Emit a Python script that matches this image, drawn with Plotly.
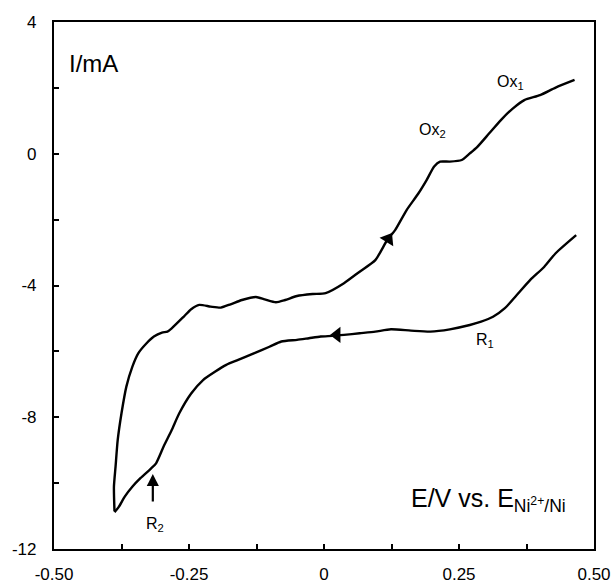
import plotly.graph_objects as go

# Forward (anodic) scan: from the cathodic minimum up to the right end
fwd_E = [-0.388, -0.389, -0.386, -0.382, -0.375, -0.366, -0.355, -0.344, -0.329, -0.315,
         -0.300, -0.290, -0.282, -0.260, -0.246, -0.231, -0.210, -0.191, -0.173, -0.152,
         -0.126, -0.110, -0.089, -0.072, -0.050, -0.021, 0.003, 0.037, 0.066,
         0.095, 0.117, 0.132, 0.153, 0.175, 0.190, 0.204, 0.215, 0.233, 0.255,
         0.270, 0.284, 0.306, 0.328, 0.350, 0.371, 0.400, 0.429, 0.464]
fwd_I = [-10.85, -10.11, -9.50, -8.69, -7.88, -7.07, -6.47, -6.06, -5.76, -5.55,
         -5.43, -5.40, -5.30, -4.95, -4.72, -4.59, -4.64, -4.67, -4.57, -4.44,
         -4.35, -4.42, -4.51, -4.44, -4.32, -4.26, -4.23, -3.93, -3.58,
         -3.23, -2.62, -2.31, -1.71, -1.20, -0.80, -0.39, -0.24, -0.24, -0.19,
         0.01, 0.21, 0.62, 1.03, 1.38, 1.63, 1.78, 2.01, 2.24]

# Reverse (cathodic) scan: from the right end back to the minimum
rev_E = [0.467, 0.429, 0.408, 0.382, 0.357, 0.335, 0.313, 0.291, 0.270, 0.233,
         0.197, 0.161, 0.124, 0.095, 0.066, 0.037, 0.016, -0.006, -0.028, -0.050,
         -0.079, -0.101, -0.130, -0.159, -0.181, -0.202, -0.224, -0.246, -0.268, -0.282,
         -0.297, -0.311, -0.320, -0.340, -0.355, -0.369, -0.380, -0.388]
rev_I = [-2.47, -3.02, -3.43, -3.83, -4.29, -4.69, -4.95, -5.10, -5.20, -5.33,
         -5.40, -5.37, -5.33, -5.40, -5.45, -5.50, -5.53, -5.55, -5.60, -5.65,
         -5.70, -5.86, -6.06, -6.26, -6.41, -6.62, -6.87, -7.28, -7.88, -8.39,
         -8.89, -9.40, -9.55, -9.85, -10.11, -10.41, -10.72, -10.88]

# Scan-direction arrowheads
arrow_E = [0.119, 0.024]
arrow_I = [-2.59, -5.50]
arrow_sym = ["triangle-up", "triangle-left"]
arrow_ang = [32, 0]

# Peak labels
lab_text = ["Ox<sub>1</sub>", "Ox<sub>2</sub>", "R<sub>1</sub>", "R<sub>2</sub>"]
lab_E = [0.345, 0.200, 0.298, -0.313]
lab_I = [2.15, 0.70, -5.68, -11.25]

x_ticks = [-0.5, -0.375, -0.25, -0.125, 0, 0.125, 0.25, 0.375, 0.5]
x_ticktext = ["-0.50", "", "-0.25", "", "0", "", "0.25", "", "0.50"]
y_ticks = [4, 2, 0, -2, -4, -6, -8, -10, -12]
y_ticktext = ["4", "", "0", "", "-4", "", "-8", "", "-12"]

FONT = "Arial, Liberation Sans, sans-serif"

fig = go.Figure()
fig.add_trace(go.Scatter(x=fwd_E, y=fwd_I, mode="lines",
                         line=dict(color="black", width=2.4, shape="spline", smoothing=0.6),
                         showlegend=False, hoverinfo="skip"))
fig.add_trace(go.Scatter(x=rev_E, y=rev_I, mode="lines",
                         line=dict(color="black", width=2.4, shape="spline", smoothing=0.6),
                         showlegend=False, hoverinfo="skip"))
fig.add_trace(go.Scatter(x=arrow_E, y=arrow_I, mode="markers",
                         marker=dict(symbol=arrow_sym, angle=arrow_ang, size=14, color="black"),
                         showlegend=False, hoverinfo="skip"))

for t, xe, yi in zip(lab_text, lab_E, lab_I):
    fig.add_annotation(x=xe, y=yi, text=t, showarrow=False,
                       font=dict(family=FONT, size=16, color="black"))

# R2 pointer arrow
fig.add_annotation(x=-0.317, y=-9.72, ax=-0.317, ay=-10.6, axref="x", ayref="y",
                   text="", showarrow=True, arrowhead=2, arrowsize=1.1,
                   arrowwidth=2.2, arrowcolor="black")

fig.add_annotation(x=0.024, y=0.95, xref="paper", yref="paper", xanchor="left",
                   text="I/mA", showarrow=False,
                   font=dict(family=FONT, size=24, color="black"))
fig.add_annotation(x=0.952, y=0.093, xref="paper", yref="paper", xanchor="right",
                   yanchor="middle",
                   text="E/V vs. E<sub>Ni<sup>2+</sup>/Ni</sub>", showarrow=False,
                   font=dict(family=FONT, size=25, color="black"))

fig.update_xaxes(range=[-0.5, 0.5], tickvals=x_ticks, ticktext=x_ticktext,
                 ticks="inside", ticklen=5, tickwidth=1.5, tickcolor="black",
                 showline=True, linecolor="black", linewidth=2.2, mirror=True,
                 showgrid=False, zeroline=False, ticklabelstandoff=8, automargin=False,
                 tickfont=dict(family=FONT, size=17, color="black"))
fig.update_yaxes(range=[-12, 4], tickvals=y_ticks, ticktext=y_ticktext,
                 ticks="inside", ticklen=5, tickwidth=1.5, tickcolor="black",
                 showline=True, linecolor="black", linewidth=2.2, mirror=True,
                 showgrid=False, zeroline=False, ticklabelstandoff=12, automargin=False,
                 tickfont=dict(family=FONT, size=17, color="black"))

fig.update_layout(width=613, height=582, margin=dict(l=54, r=19, t=22, b=33),
                  plot_bgcolor="white", paper_bgcolor="white")

fig.write_html("out.html")
